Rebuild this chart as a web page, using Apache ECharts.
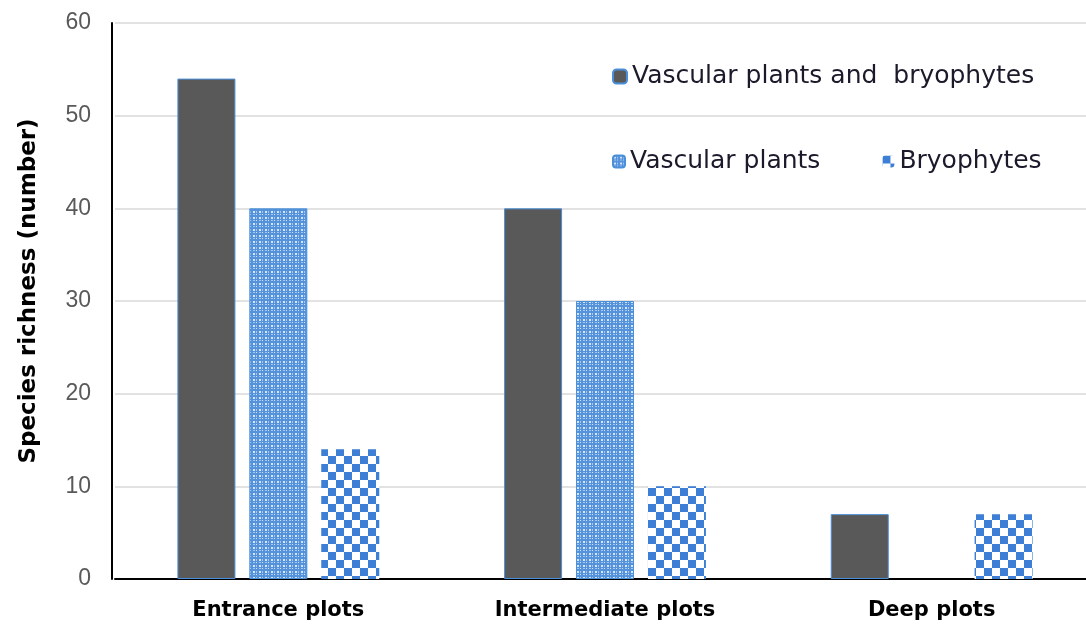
<!DOCTYPE html>
<html><head><meta charset="utf-8">
<script src="https://cdn.jsdelivr.net/npm/echarts@6/dist/echarts.min.js"></script>
<style>html,body{margin:0;padding:0;background:#fff;overflow:hidden;width:1086px;height:628px}#c{width:1096px;height:628px}</style>
</head><body><div id="c"></div>
<script>
const categories = ['Entrance plots', 'Intermediate plots', 'Deep plots'];
const seriesNames = ['Vascular plants and  bryophytes', 'Vascular plants', 'Bryophytes'];
const bothValues = [54, 40, 7];
const vascularValues = [40, 30, null];
const bryoValues = [14, 10, 7];
const yTicks = [0, 10, 20, 30, 40, 50, 60];

function finePattern() {
  const c = document.createElement('canvas'); c.width = 6; c.height = 6;
  const g = c.getContext('2d');
  g.fillStyle = '#5592dc'; g.fillRect(0, 0, 6, 6);
  g.fillStyle = '#d6e5f8'; g.fillRect(1, 1, 2, 2); g.fillRect(4, 4, 1, 1);
  g.fillStyle = '#a6c6ee'; g.fillRect(4, 1, 1, 2); g.fillRect(1, 4, 2, 1);
  return c;
}
function checkPattern() {
  const c = document.createElement('canvas'); c.width = 16; c.height = 16;
  const g = c.getContext('2d');
  g.fillStyle = '#ffffff'; g.fillRect(0, 0, 16, 16);
  g.fillStyle = '#3d7fd4'; g.fillRect(0, 0, 8, 8); g.fillRect(8, 8, 8, 8);
  return c;
}

const chart = echarts.init(document.getElementById('c'));
const font = 'Liberation Sans, Arial, sans-serif';
const wide = 'DejaVu Sans, Verdana, sans-serif';
chart.setOption({
  animation: false,
  grid: { left: 115, width: 980, top: 23, bottom: 49 },
  legend: [
    { data: [seriesNames[0]], left: 607, top: 59, itemWidth: 14, itemHeight: 14, itemGap: 10,
      textStyle: { fontFamily: wide, fontSize: 25, color: '#1a1a2a' } },
    { data: [seriesNames[1], seriesNames[2]], left: 607, top: 144, itemWidth: 12, itemHeight: 12, itemGap: 62,
      textStyle: { fontFamily: wide, fontSize: 25, color: '#1a1a2a' } }
  ],
  xAxis: {
    type: 'category', data: categories,
    axisLine: { lineStyle: { color: '#000', width: 2 } },
    axisTick: { show: false },
    axisLabel: { fontFamily: wide, fontSize: 21, fontWeight: 'bold', color: '#000', margin: 21 }
  },
  yAxis: {
    type: 'value', min: 0, max: 60, interval: 10, offset: 3,
    name: 'Species richness (number)', nameLocation: 'middle', nameGap: 71,
    nameTextStyle: { fontFamily: wide, fontSize: 23, fontWeight: 'bold', color: '#000', padding: [0, 0, 0, 20] },
    axisLine: { show: true, lineStyle: { color: '#000', width: 2 } },
    axisTick: { show: false },
    splitLine: { lineStyle: { color: '#d9d9d9', width: 1.5 } },
    axisLabel: { fontFamily: font, fontSize: 23, color: '#595959', margin: 21,
      formatter: v => yTicks.includes(v) ? String(v) : '' }
  },
  series: [
    { name: seriesNames[0], type: 'bar', data: bothValues, barWidth: 58, barGap: '24%',
      itemStyle: { color: '#595959', borderColor: '#4a8fd9', borderWidth: 1 } },
    { name: seriesNames[1], type: 'bar', data: vascularValues, barWidth: 58, barGap: '24%',
      itemStyle: { color: { image: finePattern(), repeat: 'repeat' }, borderColor: '#4a8fd9', borderWidth: 1 } },
    { name: seriesNames[2], type: 'bar', data: bryoValues, barWidth: 58, barGap: '24%',
      itemStyle: { color: { image: checkPattern(), repeat: 'repeat' } } }
  ]
});
</script></body></html>
